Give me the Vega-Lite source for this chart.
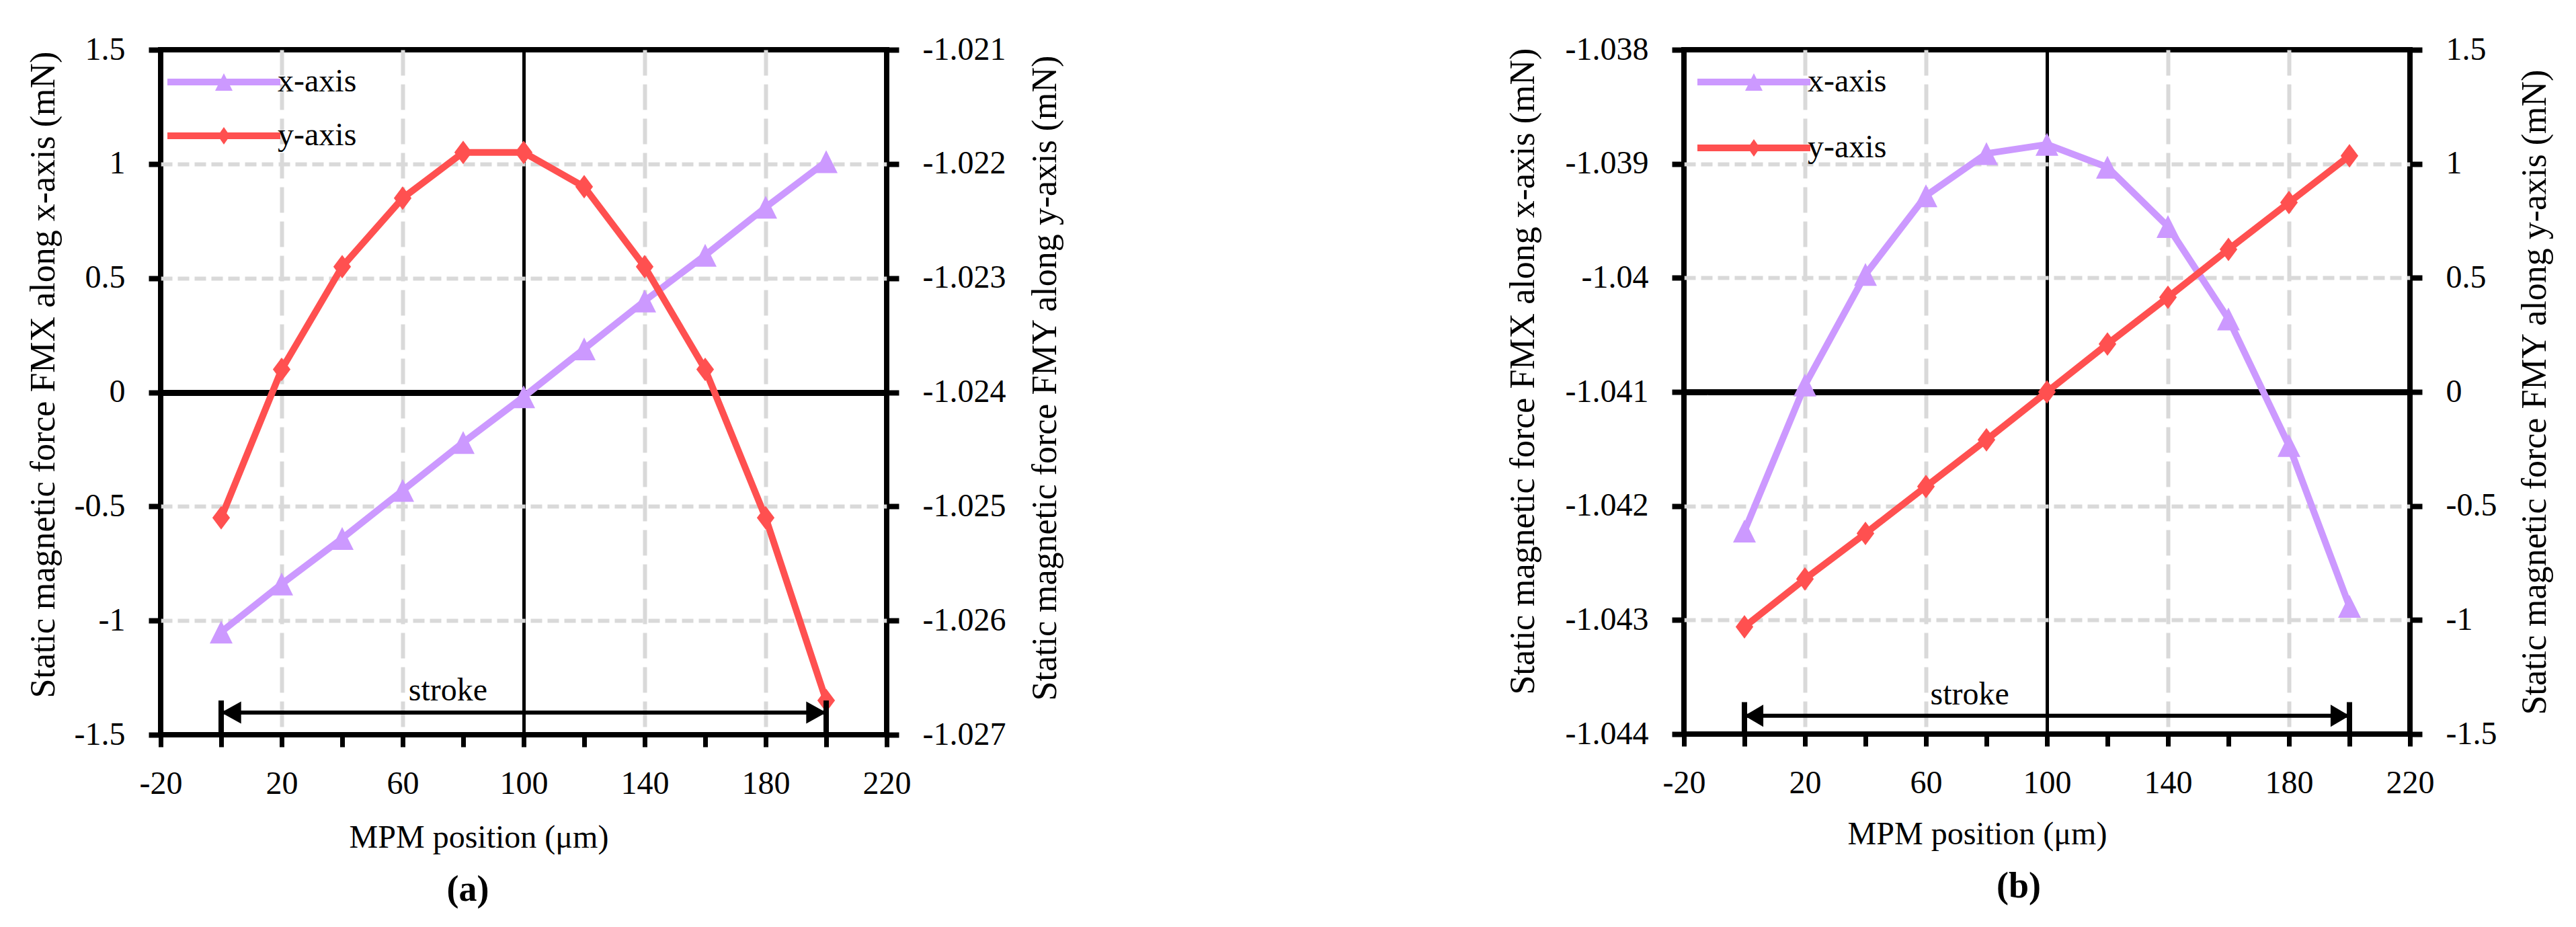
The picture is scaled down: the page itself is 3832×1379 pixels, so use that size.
{
  "$schema": "https://vega.github.io/schema/vega-lite/v6.json",
  "background": "white",
  "padding": {"left": 33, "top": 46, "right": 0, "bottom": 0},
  "spacing": 650,
  "datasets": {
    "a": [
      {"pos": 0, "fmx": -1.05, "fmy": -1.0251},
      {"pos": 20, "fmx": -0.84, "fmy": -1.0238},
      {"pos": 40, "fmx": -0.64, "fmy": -1.0229},
      {"pos": 60, "fmx": -0.43, "fmy": -1.0223},
      {"pos": 80, "fmx": -0.22, "fmy": -1.0219},
      {"pos": 100, "fmx": -0.02, "fmy": -1.0219},
      {"pos": 120, "fmx": 0.19, "fmy": -1.0222},
      {"pos": 140, "fmx": 0.40, "fmy": -1.0229},
      {"pos": 160, "fmx": 0.60, "fmy": -1.0238},
      {"pos": 180, "fmx": 0.81, "fmy": -1.0251},
      {"pos": 200, "fmx": 1.01, "fmy": -1.0267}
    ],
    "b": [
      {"pos": 0, "fmx": -1.04222, "fmy": -1.03},
      {"pos": 20, "fmx": -1.04094, "fmy": -0.82},
      {"pos": 40, "fmx": -1.03997, "fmy": -0.62},
      {"pos": 60, "fmx": -1.03928, "fmy": -0.415},
      {"pos": 80, "fmx": -1.03891, "fmy": -0.21},
      {"pos": 100, "fmx": -1.03883, "fmy": 0},
      {"pos": 120, "fmx": -1.03903, "fmy": 0.21},
      {"pos": 140, "fmx": -1.03955, "fmy": 0.415},
      {"pos": 160, "fmx": -1.04036, "fmy": 0.625},
      {"pos": 180, "fmx": -1.04147, "fmy": 0.83},
      {"pos": 200, "fmx": -1.04288, "fmy": 1.035}
    ],
    "strokeA": [{"from": 0, "to": 200, "lvl": -1.403, "top": -1.35, "base": -1.5, "label": "stroke", "labelpos": 75}],
    "strokeB": [{"from": 0, "to": 200, "lvl": -1.04384, "top": -1.04372, "base": -1.044, "label": "stroke", "labelpos": 74.5}]
  },
  "hconcat": [
    {
      "width": 1080,
      "height": 1019,
      "title": {"text": "(a)", "orient": "bottom", "anchor": "middle", "frame": "group", "dx": -83, "offset": 70, "baseline": "alphabetic"},
      "layer": [
        {
          "data": {"name": "a"},
          "layer": [
            {
              "mark": {"type": "line", "strokeWidth": 10},
              "encoding": {
                "x": {"field": "pos", "type": "quantitative", "scale": {"domain": [-20, 220], "nice": false, "zero": false},
                  "axis": {"values": [-20, 0, 20, 40, 60, 80, 100, 120, 140, 160, 180, 200, 220],
                    "labelExpr": "(datum.value + 20) % 40 == 0 ? datum.label : ''",
                    "tickWidth": 7, "labelPadding": 31,
                    "title": "MPM position (μm)", "titleFontSize": 48, "titleX": 473, "titleY": 167, "titleAlign": "center", "titleBaseline": "alphabetic", "titleAnchor": null,
                    "grid": true,
                    "gridColor": {"condition": {"test": "datum.value == 100", "value": "black"}, "value": "#d9d9d9"},
                    "gridDash": {"condition": {"test": "datum.value == 100", "value": [1, 0]}, "value": [38, 13]},
                    "gridWidth": {"condition": {"test": "datum.value == 100", "value": 5}, "value": 6},
                    "gridOpacity": {"condition": {"test": "indexof([20, 60, 100, 140, 180], datum.value) >= 0", "value": 1}, "value": 0}}},
                "y": {"field": "fmx", "type": "quantitative", "scale": {"domain": [-1.5, 1.5], "nice": false, "zero": false},
                  "axis": {"orient": "left", "values": [-1.5, -1, -0.5, 0, 0.5, 1, 1.5], "format": "~g",
                    "title": "Static magnetic force FMX along x-axis (mN)", "titleAngle": 270, "titleX": -159, "titleY": 483, "titleAlign": "center", "titleBaseline": "alphabetic", "titleAnchor": null,
                    "grid": true,
                    "gridColor": {"condition": {"test": "datum.value == 0", "value": "black"}, "value": "#d9d9d9"},
                    "gridDash": {"condition": {"test": "datum.value == 0", "value": [1, 0]}, "value": [17, 8]},
                    "gridWidth": {"condition": {"test": "datum.value == 0", "value": 9}, "value": 6},
                    "gridOpacity": {"condition": {"test": "abs(datum.value) > 1.4", "value": 0}, "value": 1}}},
                "color": {"datum": "x-axis", "type": "nominal",
                  "scale": {"domain": ["x-axis", "y-axis"], "range": ["#CC99FF", "#FF5050"]},
                  "legend": {"orient": "none", "legendX": 70, "legendY": 24, "title": null, "padding": 0,
                    "symbolSize": 676, "labelFontSize": 48, "labelFont": "Liberation Serif", "labelColor": "black",
                    "labelOffset": 56, "rowPadding": 32,
                    "encode": {"symbols": {"update": {
                      "shape": {"signal": "datum.value === 'x-axis' ? 'M-6.46,-0.38H6.46V0.38H-6.46ZM0,-1L1,1L-1,1Z' : 'M-6.46,-0.38H6.46V0.38H-6.46ZM-0.7,0L0,-1L0.7,0L0,1Z'"},
                      "fill": {"signal": "datum.value === 'x-axis' ? '#CC99FF' : '#FF5050'"},
                      "stroke": {"value": "transparent"},
                      "strokeWidth": {"value": 0},
                      "opacity": {"value": 1},
                      "size": {"value": 676}}}}}}
              }
            },
            {
              "mark": {"type": "point", "filled": true, "opacity": 1, "size": 1156, "shape": "M0,-1L1,1L-1,1Z"},
              "encoding": {
                "x": {"field": "pos", "type": "quantitative"},
                "y": {"field": "fmx", "type": "quantitative"},
                "color": {"datum": "x-axis", "type": "nominal"}
              }
            }
          ]
        },
        {
          "data": {"name": "a"},
          "layer": [
            {
              "mark": {"type": "line", "strokeWidth": 10},
              "encoding": {
                "x": {"field": "pos", "type": "quantitative"},
                "y": {"field": "fmy", "type": "quantitative", "scale": {"domain": [-1.027, -1.021], "nice": false, "zero": false},
                  "axis": {"orient": "right", "values": [-1.027, -1.026, -1.025, -1.024, -1.023, -1.022, -1.021], "format": ".3f",
                    "title": "Static magnetic force FMY along y-axis (mN)", "titleAngle": 270, "titleX": 251, "titleY": 488, "titleAlign": "center", "titleBaseline": "alphabetic", "titleAnchor": null,
                    "grid": false}},
                "color": {"datum": "y-axis", "type": "nominal"}
              }
            },
            {
              "mark": {"type": "point", "filled": true, "opacity": 1, "size": 1225, "shape": "M-0.75,0L0,-1L0.75,0L0,1Z"},
              "encoding": {
                "x": {"field": "pos", "type": "quantitative"},
                "y": {"field": "fmy", "type": "quantitative"},
                "color": {"datum": "y-axis", "type": "nominal"}
              }
            }
          ]
        },
        {
          "data": {"name": "strokeA"},
          "layer": [
            {
              "mark": {"type": "rule", "color": "black", "strokeWidth": 6},
              "encoding": {
                "x": {"field": "from", "type": "quantitative"},
                "x2": {"field": "to"},
                "y": {"field": "lvl", "type": "quantitative", "scale": {"domain": [-1.5, 1.5], "nice": false, "zero": false}, "axis": null}
              }
            },
            {
              "mark": {"type": "rule", "color": "black", "strokeWidth": 8},
              "encoding": {
                "x": {"field": "from", "type": "quantitative"},
                "y": {"field": "base", "type": "quantitative"},
                "y2": {"field": "top"}
              }
            },
            {
              "mark": {"type": "rule", "color": "black", "strokeWidth": 8},
              "encoding": {
                "x": {"field": "to", "type": "quantitative"},
                "y": {"field": "base", "type": "quantitative"},
                "y2": {"field": "top"}
              }
            },
            {
              "mark": {"type": "point", "filled": true, "opacity": 1, "color": "black", "size": 1089, "shape": "M0,0L1.8,-1L1.8,1Z"},
              "encoding": {
                "x": {"field": "from", "type": "quantitative"},
                "y": {"field": "lvl", "type": "quantitative"}
              }
            },
            {
              "mark": {"type": "point", "filled": true, "opacity": 1, "color": "black", "size": 1089, "shape": "M0,0L-1.8,-1L-1.8,1Z"},
              "encoding": {
                "x": {"field": "to", "type": "quantitative"},
                "y": {"field": "lvl", "type": "quantitative"}
              }
            },
            {
              "mark": {"type": "text", "fontSize": 48, "font": "Liberation Serif", "color": "black", "align": "center", "baseline": "alphabetic", "dy": -18},
              "encoding": {
                "x": {"field": "labelpos", "type": "quantitative"},
                "y": {"field": "lvl", "type": "quantitative"},
                "text": {"field": "label"}
              }
            }
          ]
        }
      ],
      "resolve": {"scale": {"y": "independent"}}
    },
    {
      "width": 1080,
      "height": 1018,
      "title": {"text": "(b)", "orient": "bottom", "anchor": "middle", "frame": "group", "dx": -42, "offset": 70, "baseline": "alphabetic"},
      "layer": [
        {
          "data": {"name": "b"},
          "layer": [
            {
              "mark": {"type": "line", "strokeWidth": 10},
              "encoding": {
                "x": {"field": "pos", "type": "quantitative", "scale": {"domain": [-20, 220], "nice": false, "zero": false},
                  "axis": {"values": [-20, 0, 20, 40, 60, 80, 100, 120, 140, 160, 180, 200, 220],
                    "labelExpr": "(datum.value + 20) % 40 == 0 ? datum.label : ''",
                    "tickWidth": 7, "labelPadding": 31,
                    "title": "MPM position (μm)", "titleFontSize": 48, "titleX": 436, "titleY": 163, "titleAlign": "center", "titleBaseline": "alphabetic", "titleAnchor": null,
                    "grid": true,
                    "gridColor": {"condition": {"test": "datum.value == 100", "value": "black"}, "value": "#d9d9d9"},
                    "gridDash": {"condition": {"test": "datum.value == 100", "value": [1, 0]}, "value": [38, 13]},
                    "gridWidth": {"condition": {"test": "datum.value == 100", "value": 5}, "value": 6},
                    "gridOpacity": {"condition": {"test": "indexof([20, 60, 100, 140, 180], datum.value) >= 0", "value": 1}, "value": 0}}},
                "y": {"field": "fmx", "type": "quantitative", "scale": {"domain": [-1.044, -1.038], "nice": false, "zero": false},
                  "axis": {"orient": "left", "values": [-1.044, -1.043, -1.042, -1.041, -1.04, -1.039, -1.038], "format": ".3~f",
                    "title": "Static magnetic force FMX along x-axis (mN)", "titleAngle": 270, "titleX": -224, "titleY": 478, "titleAlign": "center", "titleBaseline": "alphabetic", "titleAnchor": null,
                    "grid": true,
                    "gridColor": {"condition": {"test": "abs(datum.value + 1.041) < 0.0001", "value": "black"}, "value": "#d9d9d9"},
                    "gridDash": {"condition": {"test": "abs(datum.value + 1.041) < 0.0001", "value": [1, 0]}, "value": [17, 8]},
                    "gridWidth": {"condition": {"test": "abs(datum.value + 1.041) < 0.0001", "value": 9}, "value": 6},
                    "gridOpacity": {"condition": {"test": "abs(datum.value + 1.041) > 0.0025", "value": 0}, "value": 1}}},
                "color": {"datum": "x-axis", "type": "nominal",
                  "scale": {"domain": ["x-axis", "y-axis"], "range": ["#CC99FF", "#FF5050"]},
                  "legend": {"orient": "none", "legendX": 80, "legendY": 24, "title": null, "padding": 0,
                    "symbolSize": 676, "labelFontSize": 48, "labelFont": "Liberation Serif", "labelColor": "black",
                    "labelOffset": 56, "rowPadding": 50,
                    "encode": {"symbols": {"update": {
                      "shape": {"signal": "datum.value === 'x-axis' ? 'M-6.46,-0.38H6.46V0.38H-6.46ZM0,-1L1,1L-1,1Z' : 'M-6.46,-0.38H6.46V0.38H-6.46ZM-0.7,0L0,-1L0.7,0L0,1Z'"},
                      "fill": {"signal": "datum.value === 'x-axis' ? '#CC99FF' : '#FF5050'"},
                      "stroke": {"value": "transparent"},
                      "strokeWidth": {"value": 0},
                      "opacity": {"value": 1},
                      "size": {"value": 676}}}}}}
              }
            },
            {
              "mark": {"type": "point", "filled": true, "opacity": 1, "size": 1156, "shape": "M0,-1L1,1L-1,1Z"},
              "encoding": {
                "x": {"field": "pos", "type": "quantitative"},
                "y": {"field": "fmx", "type": "quantitative"},
                "color": {"datum": "x-axis", "type": "nominal"}
              }
            }
          ]
        },
        {
          "data": {"name": "b"},
          "layer": [
            {
              "mark": {"type": "line", "strokeWidth": 10},
              "encoding": {
                "x": {"field": "pos", "type": "quantitative"},
                "y": {"field": "fmy", "type": "quantitative", "scale": {"domain": [-1.5, 1.5], "nice": false, "zero": false},
                  "axis": {"orient": "right", "values": [-1.5, -1, -0.5, 0, 0.5, 1, 1.5], "format": "~g",
                    "title": "Static magnetic force FMY along y-axis (mN)", "titleAngle": 270, "titleX": 201, "titleY": 509, "titleAlign": "center", "titleBaseline": "alphabetic", "titleAnchor": null,
                    "grid": false}},
                "color": {"datum": "y-axis", "type": "nominal"}
              }
            },
            {
              "mark": {"type": "point", "filled": true, "opacity": 1, "size": 1225, "shape": "M-0.75,0L0,-1L0.75,0L0,1Z"},
              "encoding": {
                "x": {"field": "pos", "type": "quantitative"},
                "y": {"field": "fmy", "type": "quantitative"},
                "color": {"datum": "y-axis", "type": "nominal"}
              }
            }
          ]
        },
        {
          "data": {"name": "strokeB"},
          "layer": [
            {
              "mark": {"type": "rule", "color": "black", "strokeWidth": 6},
              "encoding": {
                "x": {"field": "from", "type": "quantitative"},
                "x2": {"field": "to"},
                "y": {"field": "lvl", "type": "quantitative", "scale": {"domain": [-1.044, -1.038], "nice": false, "zero": false}, "axis": null}
              }
            },
            {
              "mark": {"type": "rule", "color": "black", "strokeWidth": 8},
              "encoding": {
                "x": {"field": "from", "type": "quantitative"},
                "y": {"field": "base", "type": "quantitative"},
                "y2": {"field": "top"}
              }
            },
            {
              "mark": {"type": "rule", "color": "black", "strokeWidth": 8},
              "encoding": {
                "x": {"field": "to", "type": "quantitative"},
                "y": {"field": "base", "type": "quantitative"},
                "y2": {"field": "top"}
              }
            },
            {
              "mark": {"type": "point", "filled": true, "opacity": 1, "color": "black", "size": 1089, "shape": "M0,0L1.7,-1L1.7,1Z"},
              "encoding": {
                "x": {"field": "from", "type": "quantitative"},
                "y": {"field": "lvl", "type": "quantitative"}
              }
            },
            {
              "mark": {"type": "point", "filled": true, "opacity": 1, "color": "black", "size": 1089, "shape": "M0,0L-1.7,-1L-1.7,1Z"},
              "encoding": {
                "x": {"field": "to", "type": "quantitative"},
                "y": {"field": "lvl", "type": "quantitative"}
              }
            },
            {
              "mark": {"type": "text", "fontSize": 48, "font": "Liberation Serif", "color": "black", "align": "center", "baseline": "alphabetic", "dy": -17},
              "encoding": {
                "x": {"field": "labelpos", "type": "quantitative"},
                "y": {"field": "lvl", "type": "quantitative"},
                "text": {"field": "label"}
              }
            }
          ]
        }
      ],
      "resolve": {"scale": {"y": "independent"}}
    }
  ],
  "resolve": {"legend": {"color": "independent"}},
  "config": {
    "font": "Liberation Serif",
    "locale": {"number": {"decimal": ".", "thousands": ",", "grouping": [3], "currency": ["$", ""], "minus": "-"}},
    "view": {"stroke": "black", "strokeWidth": 8},
    "axis": {
      "labelFont": "Liberation Serif", "labelFontSize": 48, "labelColor": "black",
      "titleFont": "Liberation Serif", "titleFontSize": 52, "titleFontWeight": "normal", "titleColor": "black",
      "tickColor": "black", "tickSize": 18, "tickWidth": 8, "domain": false,
      "labelPadding": 35, "labelFlush": false, "labelOverlap": false, "labelBound": false
    },
    "title": {"font": "Liberation Serif", "fontSize": 54, "fontWeight": "bold", "color": "black"}
  }
}
